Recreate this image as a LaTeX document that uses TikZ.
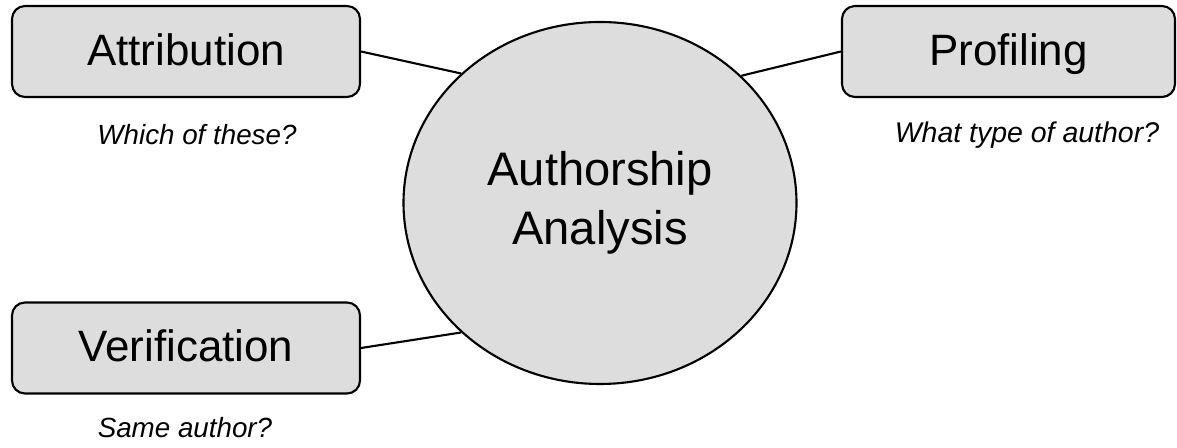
\documentclass[tikz,border=0pt]{standalone}
\usepackage{fontspec}
\setmainfont{Liberation Sans}
\usepackage{xcolor}
\usetikzlibrary{shapes.geometric}
\definecolor{boxgray}{RGB}{221,221,221}

\begin{document}
\begin{tikzpicture}[x=1cm,y=1cm,
 b/.style={draw=black,line width=0.6pt,rounded corners=0.13cm,fill=boxgray,minimum height=0.91cm,text height=9pt,text depth=1.3pt,font=\fontsize{12.5}{15}\selectfont},
 hub/.style={ellipse,draw=black,line width=0.6pt,fill=boxgray,minimum width=3.93cm,minimum height=3.62cm,inner sep=0pt,align=center,font=\fontsize{13.4}{16.8}\selectfont},
 q/.style={font=\fontsize{7.9}{9.5}\selectfont\itshape,anchor=base,inner sep=0pt},
 a/.style={line width=0.6pt}]
 \useasboundingbox (0,0) rectangle (11.77,-4.48);
 \node[hub] (auth) at (6.00,-2.03) {Authorship\\Analysis};
 \node[b,minimum width=3.48cm] (attr) at (1.86,-0.515) {Attribution};
 \node[b,minimum width=3.33cm] (prof) at (10.085,-0.515) {Profiling};
 \node[b,minimum width=3.48cm] (verif) at (1.86,-3.48) {Verification};
 \node[q] (attrq) at (1.97,-1.45) {Which of these?};
 \node[q,font=\fontsize{8.1}{9.7}\selectfont\itshape] (profq) at (10.27,-1.43) {What type of author?};
 \node[q] (verifq) at (1.85,-4.38) {Same author?};
 \draw[a] (attr.east) -- (auth.137);
 \draw[a] (prof.west) -- (auth.42);
 \draw[a] (verif.east) -- (auth.223);
\end{tikzpicture}
\end{document}
